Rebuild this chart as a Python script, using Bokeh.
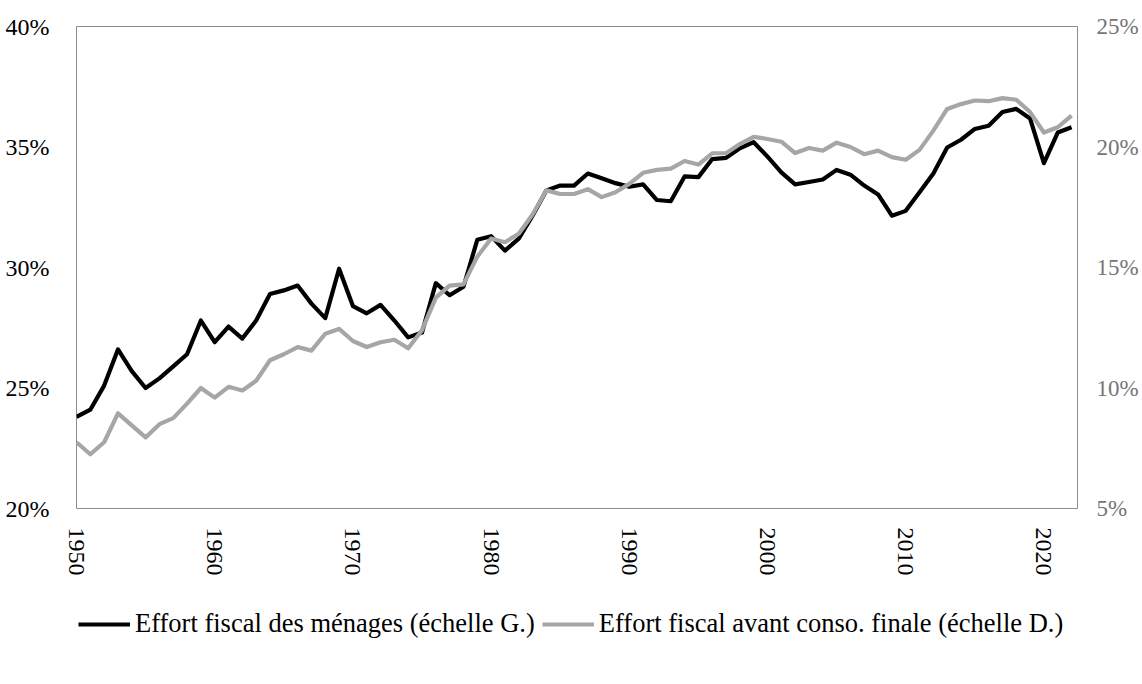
from bokeh.plotting import figure
from bokeh.layouts import column
from bokeh.models import (Range1d, LinearAxis, FixedTicker, PrintfTickFormatter,
                          Legend, LegendItem, ColumnDataSource)
from bokeh.embed import file_html
from bokeh.resources import INLINE

years = list(range(1950, 2023))

# Effort fiscal des ménages (left scale, %)
menages = [23.8, 24.1, 25.1, 26.6, 25.7, 25.0, 25.4, 25.9, 26.4, 27.8,
           26.9, 27.55, 27.05, 27.8, 28.9, 29.05, 29.25, 28.5, 27.9, 29.95,
           28.4, 28.1, 28.45, 27.8, 27.1, 27.3, 29.35, 28.85, 29.2, 31.15,
           31.3, 30.7, 31.2, 32.15, 33.2, 33.4, 33.4, 33.9, 33.7, 33.5,
           33.35, 33.45, 32.8, 32.75, 33.78, 33.75, 34.5, 34.55, 34.95, 35.2,
           34.6, 33.95, 33.45, 33.55, 33.65, 34.05, 33.85, 33.4, 33.03, 32.15,
           32.35, 33.12, 33.9, 34.98, 35.3, 35.75, 35.88, 36.45, 36.58, 36.18,
           34.33, 35.6, 35.82]

# Effort fiscal avant conso. finale (right scale, %)
avant_conso = [7.75, 7.25, 7.75, 8.95, 8.45, 7.95, 8.5, 8.75, 9.35, 10.0,
               9.6, 10.05, 9.9, 10.3, 11.15, 11.4, 11.7, 11.55, 12.25, 12.45,
               11.95, 11.7, 11.9, 12.0, 11.65, 12.4, 13.75, 14.25, 14.3, 15.45,
               16.2, 16.05, 16.4, 17.2, 18.2, 18.05, 18.05, 18.25, 17.92, 18.12,
               18.47, 18.93, 19.05, 19.1, 19.42, 19.27, 19.74, 19.74, 20.12, 20.42,
               20.33, 20.22, 19.75, 19.96, 19.85, 20.18, 20.0, 19.7, 19.85, 19.58,
               19.47, 19.88, 20.68, 21.58, 21.78, 21.93, 21.9, 22.03, 21.96, 21.45,
               20.6, 20.82, 21.3]

x_ticks = [1950, 1960, 1970, 1980, 1990, 2000, 2010, 2020]
left_ticks = [20, 25, 30, 35, 40]
right_ticks = [5, 10, 15, 20, 25]

label_black = "Effort fiscal des ménages (échelle G.)"
label_gray = "Effort fiscal avant conso. finale (échelle D.)"

FONT = "Liberation Serif"
BLACK = "black"
GRAY = "#a6a6a6"
LW = 4.2

p = figure(width=1142, height=590, output_backend="svg", toolbar_location=None,
           x_range=Range1d(1950, 2022.43), y_range=Range1d(20, 40),
           min_border_left=76, min_border_right=65, min_border_top=26,
           min_border_bottom=82)
p.extra_y_ranges = {"right": Range1d(5, 25)}

p.xgrid.visible = False
p.ygrid.visible = False
p.outline_line_color = "#8c8c8c"
p.outline_line_width = 1
p.background_fill_color = "white"
p.border_fill_color = "white"

src = ColumnDataSource(dict(x=years, m=menages, a=avant_conso))
p.line("x", "m", source=src, line_color=BLACK, line_width=LW, line_join="round")
p.line("x", "a", source=src, line_color=GRAY, line_width=LW, line_join="round",
       y_range_name="right")

# x axis
xa = p.xaxis[0]
xa.ticker = FixedTicker(ticks=x_ticks)
xa.major_label_orientation = "vertical"
xa.major_label_text_font = FONT
xa.major_label_text_font_size = "24px"
xa.major_label_text_color = "black"
xa.major_label_standoff = 13
xa.major_tick_line_color = None
xa.minor_tick_line_color = None
xa.axis_line_color = None

# left axis
ya = p.yaxis[0]
ya.ticker = FixedTicker(ticks=left_ticks)
ya.formatter = PrintfTickFormatter(format="%d%%")
ya.major_label_text_font = FONT
ya.major_label_text_font_size = "24px"
ya.major_label_text_color = "black"
ya.major_label_standoff = 21
ya.major_tick_line_color = None
ya.minor_tick_line_color = None
ya.axis_line_color = None

# right axis
ra = LinearAxis(y_range_name="right", ticker=FixedTicker(ticks=right_ticks),
                formatter=PrintfTickFormatter(format="%d%%"))
ra.major_label_text_font = FONT
ra.major_label_text_font_size = "23px"
ra.major_label_text_color = "#767676"
ra.major_label_standoff = 13
ra.major_tick_line_color = None
ra.minor_tick_line_color = None
ra.axis_line_color = None
p.add_layout(ra, "right")

# legend strip below the chart (lines kept outside its visible ranges)
lg = figure(width=1142, height=94, output_backend="svg", toolbar_location=None,
            x_range=Range1d(0, 1), y_range=Range1d(0, 1),
            min_border=0, min_border_left=0, min_border_right=0,
            min_border_top=0, min_border_bottom=0)
lg.axis.visible = False
lg.grid.visible = False
lg.outline_line_color = None
lg.background_fill_color = "white"
lg.border_fill_color = "white"
lb = lg.line("x", "m", source=src, line_color=BLACK, line_width=LW)
lgr = lg.line("x", "a", source=src, line_color=GRAY, line_width=LW)

legend = Legend(items=[LegendItem(label=label_black, renderers=[lb]),
                       LegendItem(label=label_gray, renderers=[lgr])],
                orientation="horizontal", location=(2, 45),
                border_line_color=None, background_fill_alpha=0,
                glyph_width=52, glyph_height=20, label_standoff=5, spacing=7,
                padding=4, margin=0,
                label_text_font=FONT, label_text_font_size="26.5px",
                label_text_color="black")
lg.add_layout(legend, "center")

layout = column(p, lg, spacing=0)
open("out.html", "w").write(file_html(layout, INLINE))
